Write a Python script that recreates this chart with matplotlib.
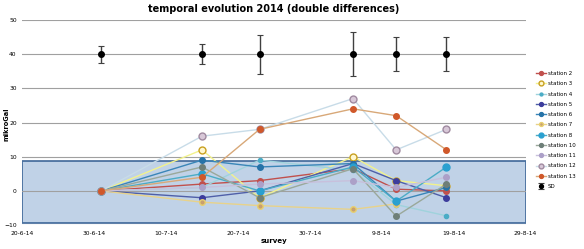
import datetime
import matplotlib
matplotlib.use('Agg')
from matplotlib import pyplot as plt

surveys = [datetime.date(2014, 7, 1), datetime.date(2014, 7, 15), datetime.date(2014, 7, 23),
           datetime.date(2014, 8, 5), datetime.date(2014, 8, 11), datetime.date(2014, 8, 18)]

station_2 = [0, 2, 3, 6.5, 0.5, 0]
station_3 = [0, 12, -2, 10, 3, 1.5]
station_4 = [0, 1, 9, 6, -4, -7.3]
station_5 = [0, -2, 0, 8, 3, -2]
station_6 = [0, 9, 7, 8, -3, 1]
station_7 = [0, -3.3, -4.3, -5.4, -3.8, None]
station_8 = [0, 5, 0, 7, -3, 7]
station_10 = [0, 7, -2, 6.5, -7.4, 2]
station_11 = [0, 1, 2, 3, 1, 4]
station_12 = [0, 16, 18, 27, 12, 18]
station_13 = [0, 4, 18, 24, 22, 12]
sd_mean = [40, 40, 40, 40, 40, 40]
sd_err = [2.5, 3, 5.7, 6.5, 4.9, 4.9]

tick_dates = [datetime.date(2014, 6, 20) + datetime.timedelta(10 * i) for i in range(8)]
tick_labels = ['20-6-14', '30-6-14', '10-7-14', '20-7-14', '30-7-14', '9-8-14', '19-8-14', '29-8-14']

# name, values, line colour, marker face, marker edge, marker size
stations = [
    ('station 2', station_2, '#c0504d', '#c0504d', '#c0504d', 4),
    ('station 3', station_3, '#f2f28c', '#fff8d0', '#c8a020', 5),
    ('station 4', station_4, '#9fd3dc', '#4bacc6', '#4bacc6', 3),
    ('station 5', station_5, '#4f5fa8', '#3c3c9c', '#3c3c9c', 4),
    ('station 6', station_6, '#3a86b8', '#2673a8', '#2673a8', 4),
    ('station 7', station_7, '#e8d28a', '#c8a070', '#e8d070', 4),
    ('station 8', station_8, '#4bacc6', '#2aa0d0', '#2aa0d0', 5),
    ('station 10', station_10, '#9aa89a', '#6e7f78', '#6e7f78', 4),
    ('station 11', station_11, '#c8c0dc', '#aca0c8', '#aca0c8', 4),
    ('station 12', station_12, '#c8dce8', '#d8c8d8', '#a08aa0', 5),
    ('station 13', station_13, '#d8a878', '#d0582a', '#d0582a', 4),
]

fig = plt.figure(figsize=(5.84, 2.49), dpi=100)
ax = fig.add_axes([0.038, 0.096, 0.862, 0.824])

ax.axhspan(-9.3, 8.8, facecolor='#b9cde5', edgecolor='#3b6496', linewidth=1.3, alpha=0.9, zorder=1)
ax.set_ylim(-10, 50)
ax.set_yticks(range(-10, 51, 10))
ax.yaxis.grid(True, color='#a0a0a0', linewidth=0.8, zorder=2)
ax.set_axisbelow(False)

for name, vals, lc, mfc, mec, ms in stations:
    pts = [(d, v) for d, v in zip(surveys, vals) if v is not None]
    ax.plot([p[0] for p in pts], [p[1] for p in pts], color=lc, linewidth=1.0,
            marker='o', markersize=ms, markerfacecolor=mfc, markeredgecolor=mec,
            markeredgewidth=1.0, label=name, zorder=3)

ax.errorbar(surveys, sd_mean, yerr=sd_err, fmt='o', color='black', markersize=4,
            ecolor='#404040', elinewidth=1.0, capsize=2, capthick=0.8, label='SD', zorder=4)

ax.set_xlim(tick_dates[0], tick_dates[-1])
ax.set_xticks(tick_dates)
ax.set_xticklabels(tick_labels)
ax.tick_params(axis='both', labelsize=4.3, length=0, pad=4)
for s in ax.spines.values():
    s.set_visible(False)

ax.set_title('temporal evolution 2014 (double differences)', fontsize=7, fontweight='bold', pad=6)
ax.set_xlabel('survey', fontsize=5, fontweight='bold', labelpad=2)
fig.text(0.011, 0.5, 'mikroGal', rotation=90, fontsize=4.8, fontweight='bold', ha='center', va='center')

ax.legend(loc='upper left', bbox_to_anchor=(0.918, 0.715), bbox_transform=fig.transFigure,
          frameon=False, fontsize=4, handlelength=1.8, labelspacing=0.95, handletextpad=0.3,
          borderpad=0, borderaxespad=0, markerscale=0.7)

plt.savefig('out.png', dpi=100)
